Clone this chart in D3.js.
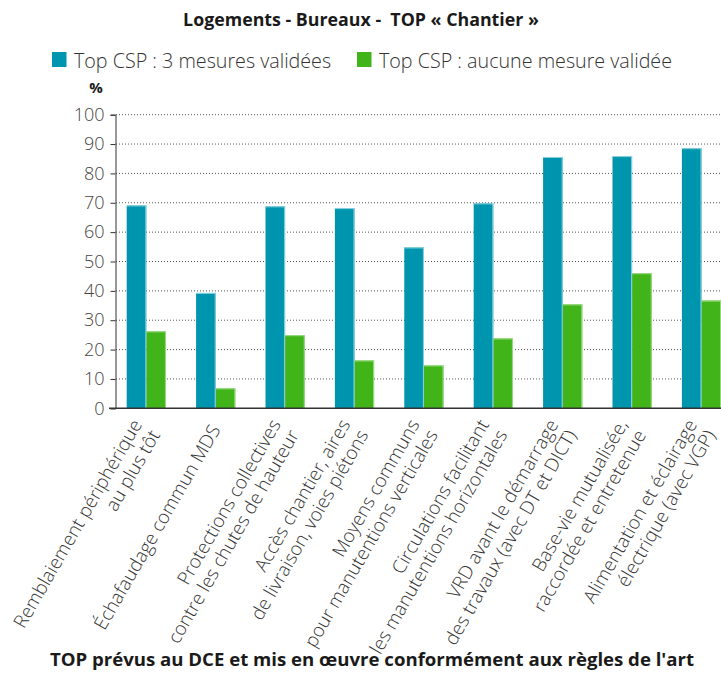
<!DOCTYPE html>
<html><head><meta charset="utf-8">
<script src="https://cdn.jsdelivr.net/npm/d3@7"></script>
<style>
body{margin:0;background:#fff;}
svg{display:block;font-family:"Open Sans",sans-serif;}
</style></head>
<body><svg id="c" width="721" height="697"></svg>
<script>
const categories = [
  ["Remblaiement périphérique","au plus tôt"],
  ["Échafaudage commun MDS"],
  ["Protections collectives","contre les chutes de hauteur"],
  ["Accès chantier, aires","de livraison, voies piétons"],
  ["Moyens communs","pour manutentions verticales"],
  ["Circulations facilitant","les manutentions horizontales"],
  ["VRD avant le démarrage","des travaux (avec DT et DICT)"],
  ["Base-vie mutualisée,","raccordée et entretenue"],
  ["Alimentation et éclairage","électrique (avec VGP)"]
];
const seriesNames = ["Top CSP : 3 mesures validées","Top CSP : aucune mesure validée"];
const series3 = [69.1, 39.3, 68.8, 68.2, 54.8, 69.8, 85.6, 85.9, 88.6];
const seriesNone = [26.2, 6.8, 24.9, 16.3, 14.6, 23.8, 35.4, 46.0, 36.7];
const yTicks = [0,10,20,30,40,50,60,70,80,90,100];
const colors = ["#0095ae","#41b419"];
const strokeColors = ["#8fd3de","#9ddc88"];
const titleText = "Logements - Bureaux -  TOP « Chantier »";
const bottomText = "TOP prévus au DCE et mis en œuvre conformément aux règles de l'art";

const svg = d3.select("#c");
const idx = categories.map((d,i)=>i);
const x = d3.scaleBand().domain(idx).range([111.6, 736.2]).paddingInner(0.435).paddingOuter(0.2175);
const x1 = d3.scaleBand().domain([0,1]).range([0, x.bandwidth()]);
const y = d3.scaleLinear().domain([0,100]).range([408.3, 114.7]);

// title
svg.append("text").attr("x",361).attr("y",26).attr("text-anchor","middle")
  .attr("font-weight",700).attr("font-size",17.8).attr("fill","#1a1a1a")
  .style("white-space","pre").text(titleText);

// legend
const leg = [{x:52},{x:357}];
seriesNames.forEach((n,i)=>{
  svg.append("rect").attr("x",leg[i].x).attr("y",52).attr("width",14.5).attr("height",15).attr("fill",colors[i]);
  svg.append("text").attr("x",leg[i].x+22).attr("y",67.5).attr("font-size",19.7).attr("font-weight",300)
    .attr("fill","#333").text(n);
});
svg.append("text").attr("x",96).attr("y",93).attr("text-anchor","middle").attr("font-weight",700)
  .attr("font-size",15).attr("fill","#1a1a1a").text("%");

// gridlines
svg.append("g").selectAll("line").data(yTicks.filter(t=>t>0)).join("line")
  .attr("x1",116).attr("x2",721).attr("y1",d=>y(d)).attr("y2",d=>y(d))
  .attr("stroke","#555").attr("stroke-width",1).attr("stroke-dasharray","1,2");

// y axis
const yAxis = svg.append("g").attr("transform","translate(115.5,0)")
  .call(d3.axisLeft(y).tickValues(yTicks).tickSize(5).tickPadding(6));
yAxis.select(".domain").attr("stroke","#333");
yAxis.selectAll(".tick line").attr("stroke","#333");
yAxis.selectAll(".tick text").attr("font-size",18).attr("font-weight",300).attr("fill","#444")
  .attr("font-family","Open Sans, sans-serif");

// bars
const data = idx.map(i=>[series3[i], seriesNone[i]]);
const groups = svg.append("g").selectAll("g").data(data).join("g")
  .attr("transform",(d,i)=>`translate(${x(i)},0)`);
groups.selectAll("rect").data(d=>d.map((v,k)=>({v,k}))).join("rect")
  .attr("x",d=>x1(d.k)).attr("width",x1.bandwidth())
  .attr("y",d=>y(d.v)).attr("height",d=>y(0)-y(d.v))
  .attr("fill",d=>colors[d.k]);
groups.selectAll("line.edge").data(d=>d.map((v,k)=>({v,k}))).join("line").attr("class","edge")
  .attr("x1",d=>x1(d.k)+x1.bandwidth()-0.5).attr("x2",d=>x1(d.k)+x1.bandwidth()-0.5)
  .attr("y1",d=>y(d.v)).attr("y2",y(0))
  .attr("stroke",d=>strokeColors[d.k]).attr("stroke-width",1);
groups.selectAll("line.top").data(d=>d.map((v,k)=>({v,k}))).join("line").attr("class","top")
  .attr("x1",d=>x1(d.k)).attr("x2",d=>x1(d.k)+x1.bandwidth())
  .attr("y1",d=>y(d.v)+0.5).attr("y2",d=>y(d.v)+0.5)
  .attr("stroke",d=>strokeColors[d.k]).attr("stroke-width",1);

// x baseline
svg.append("line").attr("x1",109).attr("x2",721).attr("y1",y(0)).attr("y2",y(0))
  .attr("stroke","#333").attr("stroke-width",1.5);

// x labels
const lab = svg.append("g").selectAll("g").data(categories).join("g")
  .attr("transform",(d,i)=>`translate(${x(i)+x.bandwidth()/2-3},412) rotate(-60)`);
lab.each(function(lines){
  const g = d3.select(this);
  const ls = 21;
  const base = 16 - (lines.length-1)*ls/2;
  lines.forEach((t,j)=>{
    g.append("text").attr("x",-11).attr("y",base + j*ls).attr("text-anchor","end")
      .attr("font-size",18.8).attr("font-weight",300).attr("fill","#333").text(t);
  });
});

// bottom title
svg.append("text").attr("x",372).attr("y",666).attr("text-anchor","middle")
  .attr("font-weight",700).attr("font-size",18.6).attr("fill","#1a1a1a").text(bottomText);
</script></body></html>
